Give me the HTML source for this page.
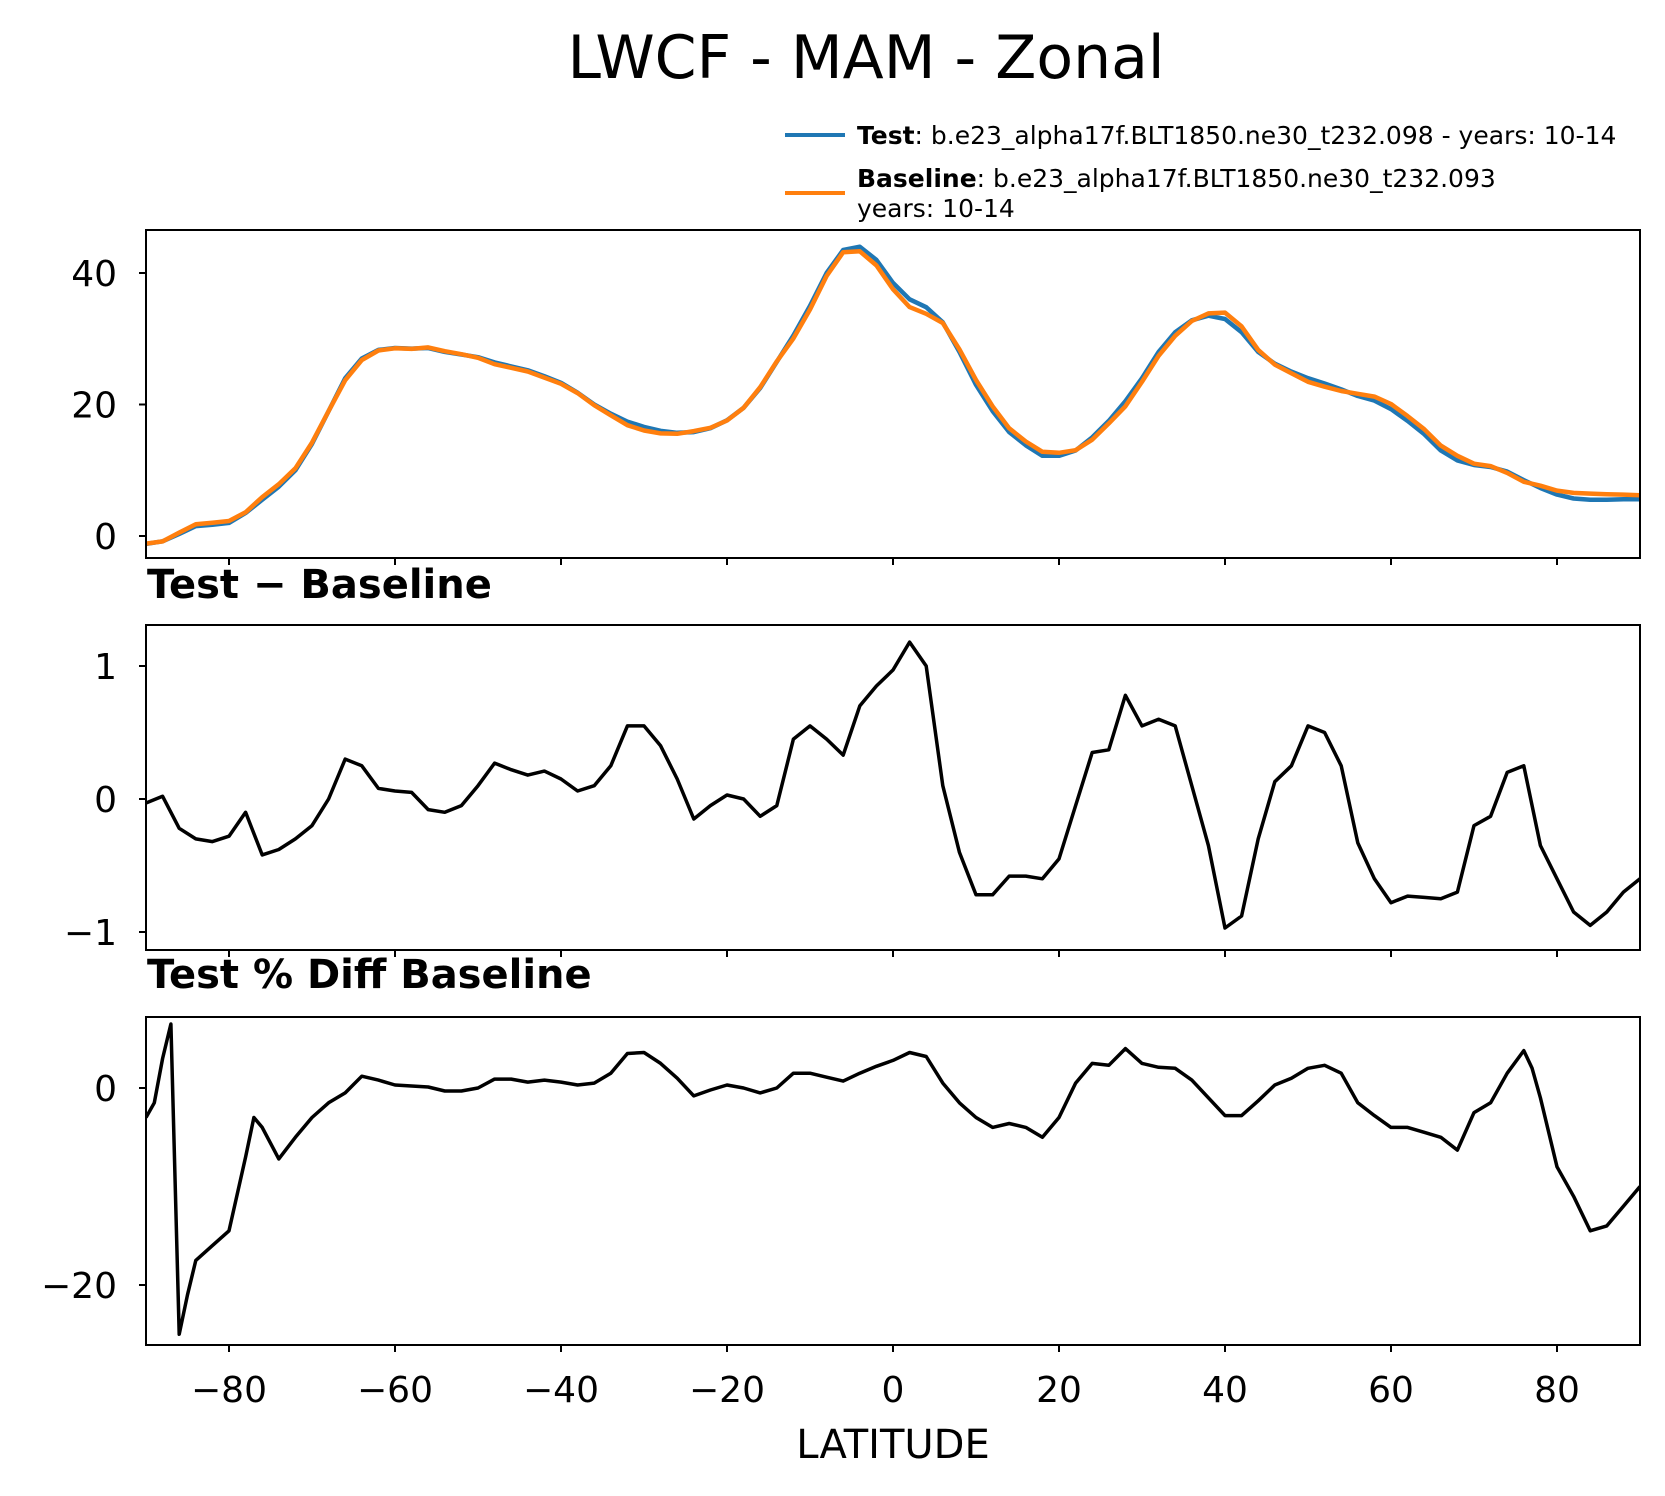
<!DOCTYPE html>
<html><head><meta charset="utf-8"><style>
body{margin:0;background:#fff}
svg{display:block;font-family:"DejaVu Sans","Liberation Sans",sans-serif}
</style></head><body>
<svg id="c" width="1665" height="1496" viewBox="0 0 1665 1496">
<text x="866" y="78" font-size="60" text-anchor="middle">LWCF - MAM - Zonal</text>
<g>
<line x1="785" y1="135" x2="845" y2="135" stroke="#1f77b4" stroke-width="4"/>
<text x="857" y="144" font-size="25"><tspan font-weight="bold">Test</tspan>: b.e23_alpha17f.BLT1850.ne30_t232.098 - years: 10-14</text>
<line x1="785" y1="193" x2="845" y2="193" stroke="#ff7f0e" stroke-width="4"/>
<text x="857" y="187" font-size="25"><tspan font-weight="bold">Baseline</tspan>: b.e23_alpha17f.BLT1850.ne30_t232.093</text>
<text x="857" y="217" font-size="25">years: 10-14</text>
</g>
<text x="147" y="598" font-size="40" font-weight="bold">Test − Baseline</text>
<text x="147" y="988" font-size="40" font-weight="bold">Test % Diff Baseline</text>
<text x="893" y="1458" font-size="40" text-anchor="middle">LATITUDE</text>
<g id="g"></g>
</svg>
<script>
const lat2=[-90,-88,-86,-84,-82,-80,-78,-76,-74,-72,-70,-68,-66,-64,-62,-60,-58,-56,-54,-52,-50,-48,-46,-44,-42,-40,-38,-36,-34,-32,-30,-28,-26,-24,-22,-20,-18,-16,-14,-12,-10,-8,-6,-4,-2,0,2,4,6,8,10,12,14,16,18,20,22,24,26,28,30,32,34,36,38,40,42,44,46,48,50,52,54,56,58,60,62,64,66,68,70,72,74,76,78,80,82,84,86,88,90];
const testVals=[-1.2,-0.8,0.3,1.5,1.7,2.0,3.5,5.5,7.5,10,14,19,24,27,28.3,28.6,28.5,28.6,28.0,27.6,27.2,26.4,25.8,25.2,24.3,23.3,21.8,20,18.6,17.4,16.6,16.0,15.7,15.8,16.4,17.6,19.5,22.5,26.5,30.5,35,40,43.5,44,42,38.5,36,34.8,32.5,28,23,19,15.8,13.8,12.2,12.2,13,15,17.5,20.5,24,28,31,32.8,33.5,33,31,28,26.2,25,24,23.2,22.3,21.3,20.6,19.3,17.5,15.5,13,11.5,10.8,10.5,9.8,8.5,7.3,6.3,5.7,5.5,5.5,5.6,5.6];
const diffVals=[-0.03,0.02,-0.22,-0.3,-0.32,-0.28,-0.1,-0.42,-0.38,-0.3,-0.2,0.0,0.3,0.25,0.08,0.06,0.05,-0.08,-0.1,-0.05,0.1,0.27,0.22,0.18,0.21,0.15,0.06,0.1,0.25,0.55,0.55,0.4,0.15,-0.15,-0.05,0.03,0.0,-0.13,-0.05,0.45,0.55,0.45,0.33,0.7,0.85,0.97,1.18,1.0,0.1,-0.4,-0.72,-0.72,-0.58,-0.58,-0.6,-0.45,-0.05,0.35,0.37,0.78,0.55,0.6,0.55,0.1,-0.35,-0.97,-0.88,-0.3,0.13,0.25,0.55,0.5,0.25,-0.33,-0.6,-0.78,-0.73,-0.74,-0.75,-0.7,-0.2,-0.13,0.2,0.25,-0.35,-0.6,-0.85,-0.95,-0.85,-0.7,-0.6];
const baseVals=testVals.map((v,i)=>v-diffVals[i]);
const latP=[-90,-89,-88,-87,-86,-85,-84,-82,-80,-78,-77,-76,-74,-72,-70,-68,-66,-64,-62,-60,-58,-56,-54,-52,-50,-48,-46,-44,-42,-40,-38,-36,-34,-32,-30,-28,-26,-24,-22,-20,-18,-16,-14,-12,-10,-8,-6,-4,-2,0,2,4,6,8,10,12,14,16,18,20,22,24,26,28,30,32,34,36,38,40,42,44,46,48,50,52,54,56,58,60,62,64,66,68,70,72,74,76,77,78,80,82,84,86,88,90];
const pctVals=[-3,-1.5,3,6.5,-25,-21,-17.5,-16,-14.5,-7,-3,-4,-7.2,-5,-3,-1.5,-0.5,1.2,0.8,0.3,0.2,0.1,-0.3,-0.3,0,0.9,0.9,0.6,0.8,0.6,0.3,0.5,1.5,3.5,3.6,2.5,1,-0.8,-0.2,0.3,0,-0.5,0,1.5,1.5,1.1,0.7,1.5,2.2,2.8,3.6,3.2,0.5,-1.5,-3,-4,-3.6,-4,-5,-3,0.5,2.5,2.3,4,2.5,2.1,2,0.8,-1,-2.8,-2.8,-1.3,0.3,1,2,2.3,1.5,-1.5,-2.8,-4,-4,-4.5,-5,-6.3,-2.5,-1.5,1.5,3.8,2,-1,-8,-11,-14.5,-14,-12,-10];
const xTicks=[-80,-60,-40,-20,0,20,40,60,80];
const p1Ticks=[0,20,40],p2Ticks=[-1,0,1],p3Ticks=[-20,0];
const NS='http://www.w3.org/2000/svg';
const g=document.getElementById('g');
const X=v=>146+(v+90)*(1640-146)/180;
function mk(t,a){const e=document.createElementNS(NS,t);for(const k in a)e.setAttribute(k,a[k]);g.appendChild(e);return e;}
function panel(name,top,bot,y0,py0,y1,py1,ticks,labels,series,last){
  const Y=v=>py0+(v-y0)*(py1-py0)/(y1-y0);
  series.forEach(s=>{
    const d=s.lat.map((l,i)=>(i?'L':'M')+X(l).toFixed(1)+','+Y(s.v[i]).toFixed(1)).join('');
    const p=mk('path',{d:d,fill:'none',stroke:s.c,'stroke-width':s.w,'stroke-linejoin':'round','clip-path':'url(#cl'+name+')'});
    
    
  });
  const cp=document.createElementNS(NS,'clipPath');cp.id='cl'+name;
  const r=document.createElementNS(NS,'rect');r.setAttribute('x',146);r.setAttribute('y',top);r.setAttribute('width',1494);r.setAttribute('height',bot-top);cp.appendChild(r);g.appendChild(cp);
  const fr=mk('rect',{x:146,y:top,width:1494,height:bot-top,fill:'none',stroke:'#000','stroke-width':2});
  
  
  ticks.forEach(t=>{
    mk('line',{x1:139,x2:146,y1:Y(t),y2:Y(t),stroke:'#000','stroke-width':2});
    const tx=mk('text',{x:117,y:Y(t)+13,'font-size':36,'text-anchor':'end'});
    tx.textContent=t<0?'−'+(-t):String(t);
    
    
  });
  xTicks.forEach(t=>{
    mk('line',{x1:X(t),x2:X(t),y1:bot,y2:bot+7,stroke:'#000','stroke-width':2});
    if(last){const tx=mk('text',{x:X(t),y:bot+57,'font-size':36,'text-anchor':'middle'});
      tx.textContent=t<0?'−'+(-t):String(t);
      
      }
  });
}
panel('zonal-mean',230,558,0,536,40,273,p1Ticks,null,[
 {lat:lat2,v:testVals,c:'#1f77b4',w:4.5,n:'test-line'},
 {lat:lat2,v:baseVals,c:'#ff7f0e',w:4.5,n:'baseline-line'}],false);
panel('diff',625,950,0,799,1,666,p2Ticks,null,[{lat:lat2,v:diffVals,c:'#000',w:3.5,n:'diff-line'}],false);
panel('pctdiff',1017,1345,0,1088,-20,1285,p3Ticks,null,[{lat:latP,v:pctVals,c:'#000',w:3.5,n:'pctdiff-line'}],true);
</script>
</body></html>
